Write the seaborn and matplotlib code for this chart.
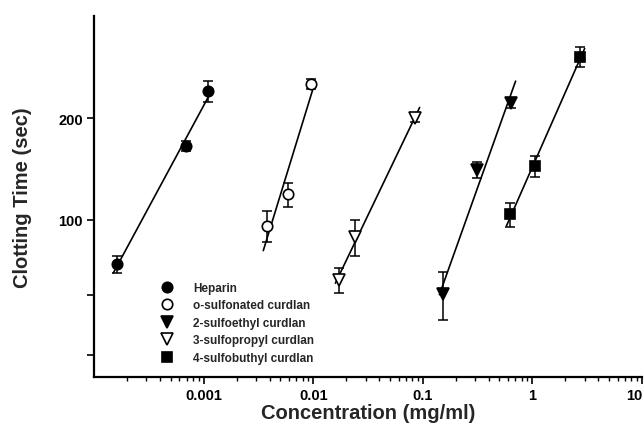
import numpy as np
import pandas as pd
import matplotlib
matplotlib.use("Agg")
import matplotlib.pyplot as plt
import matplotlib.ticker as mticker
import seaborn as sns

# values (concentration mg/ml, clotting time sec, +/- error)
series_names = ["Heparin", "o-sulfonated curdlan", "2-sulfoethyl curdlan",
                "3-sulfopropyl curdlan", "4-sulfobuthyl curdlan"]

heparin_x = [1.62e-4, 6.9e-4, 1.10e-3]
heparin_y = [74, 165, 240]
heparin_err = [4.3, 5.6, 17]

osulf_x = [3.78e-3, 5.9e-3, 9.5e-3]
osulf_y = [96, 119, 252]
osulf_err = [10, 10, 8.5]

ethyl_x = [0.153, 0.313, 0.638]
ethyl_y = [60.5, 140.5, 221]
ethyl_err = [9.7, 7.7, 7.5]

propyl_x = [0.0172, 0.024, 0.085]
propyl_y = [66.6, 89, 200]
propyl_err = [5.6, 11, 5.5]

butyl_x = [0.625, 1.056, 2.72]
butyl_y = [104, 144, 303]
butyl_err = [8.6, 10, 21]

x_ticks = [1e-3, 1e-2, 1e-1, 1, 10]
x_tick_labels = ["0.001", "0.01", "0.1", "1", "10"]
y_ticks = [40, 60, 100, 200]
y_tick_labels = ["", "", "100", "200"]


def setup_plot_style():
    sns.set_theme(style="ticks")
    plt.rcParams.update({
        "font.family": ["Liberation Sans", "DejaVu Sans"],
        "font.weight": "bold",
        "axes.linewidth": 1.6,
        "xtick.major.width": 1.2,
        "ytick.major.width": 1.2,
        "xtick.minor.width": 1.0,
        "xtick.color": "black",
        "ytick.color": "black",
        "axes.edgecolor": "black",
    })


def build_frames():
    data = [
        (heparin_x, heparin_y, heparin_err),
        (osulf_x, osulf_y, osulf_err),
        (ethyl_x, ethyl_y, ethyl_err),
        (propyl_x, propyl_y, propyl_err),
        (butyl_x, butyl_y, butyl_err),
    ]
    points = []
    fits = []
    for name, (xs, ys, es) in zip(series_names, data):
        points.append(pd.DataFrame({"series": name, "conc": xs, "time": ys, "err": es}))
        # least-squares line in log-log space, drawn a bit past the data
        slope, icpt = np.polyfit(np.log10(xs), np.log10(ys), 1)
        lx = np.log10([min(xs) / 1.08, max(xs) * 1.1])
        fits.append(pd.DataFrame({"series": name, "conc": 10 ** lx,
                                  "time": 10 ** (icpt + slope * lx)}))
    return pd.concat(points, ignore_index=True), pd.concat(fits, ignore_index=True)


def create_plot():
    setup_plot_style()
    pts, fits = build_frames()

    fig = plt.figure(figsize=(6.44, 4.27), dpi=100)
    ax = fig.add_axes([0.146, 0.115, 0.851, 0.845])

    sns.lineplot(data=fits, x="conc", y="time", units="series", estimator=None,
                 color="black", linewidth=1.2, ax=ax, legend=False)

    styles = {
        "Heparin": ("o", "black", 7.5),
        "o-sulfonated curdlan": ("o", "white", 7.5),
        "2-sulfoethyl curdlan": ("v", "black", 8),
        "3-sulfopropyl curdlan": ("v", "white", 8),
        "4-sulfobuthyl curdlan": ("s", "black", 7),
    }
    for name in series_names:
        d = pts[pts["series"] == name]
        mk, fc, ms = styles[name]
        ax.errorbar(d["conc"], d["time"], yerr=d["err"], fmt="none",
                    ecolor="black", elinewidth=1.1, capsize=3.5, capthick=1.1, zorder=3)
        ax.plot(d["conc"], d["time"], linestyle="none", marker=mk, markersize=ms,
                markerfacecolor=fc, markeredgecolor="black", markeredgewidth=1.2,
                label=name, zorder=4)

    ax.set_xscale("log")
    ax.set_yscale("log")
    ax.set_xlim(1e-4, 10)
    ax.set_ylim(34.4, 400)

    ax.xaxis.set_major_locator(mticker.FixedLocator(x_ticks))
    ax.xaxis.set_major_formatter(mticker.FixedFormatter(x_tick_labels))
    ax.xaxis.set_minor_locator(mticker.LogLocator(base=10, subs=np.arange(2, 10)))
    ax.xaxis.set_minor_formatter(mticker.NullFormatter())
    ax.yaxis.set_major_locator(mticker.FixedLocator(y_ticks))
    ax.yaxis.set_major_formatter(mticker.FixedFormatter(y_tick_labels))
    ax.yaxis.set_minor_locator(mticker.NullLocator())

    ax.tick_params(axis="both", which="major", length=5, labelsize=10.5, pad=3, direction="out")
    ax.tick_params(axis="x", which="minor", length=3, direction="out")
    for lab in ax.get_xticklabels() + ax.get_yticklabels():
        lab.set_fontweight("bold")
    # last label sits at the figure edge, as in the reference
    ax.xaxis.get_major_ticks()[-1].label1.set_horizontalalignment("right")

    sns.despine(ax=ax)

    ax.set_xlabel("Concentration (mg/ml)", fontsize=14.5, fontweight="bold", labelpad=1)
    ax.set_ylabel("Clotting Time (sec)", fontsize=14.5, fontweight="bold", labelpad=19)

    ax.legend(loc="upper left", bbox_to_anchor=(0.11, 0.28), frameon=False,
              prop={"weight": "bold", "size": 8.5}, labelspacing=0.47,
              handletextpad=1.6, handlelength=1.2, borderpad=0)

    fig.savefig("out.png", dpi=100)
    plt.close(fig)


if __name__ == "__main__":
    create_plot()
